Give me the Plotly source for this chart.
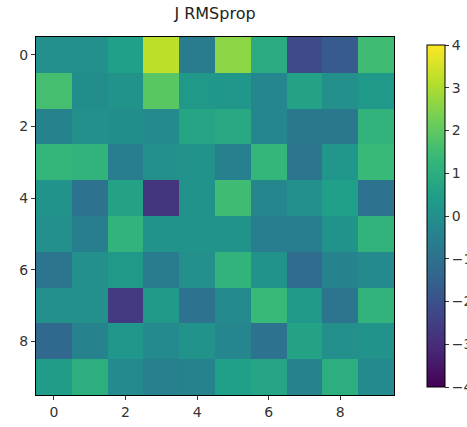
import plotly.graph_objects as go

title = "J RMSprop"
x_ticks = [0, 2, 4, 6, 8]
y_ticks = [0, 2, 4, 6, 8]
cbar_ticks = [-4, -3, -2, -1, 0, 1, 2, 3, 4]

row0 = [0.0, 0.0, 0.5, 3.2, -0.7, 2.6, 0.9, -2.2, -1.7, 1.5]
row1 = [1.6, -0.1, 0.1, 1.9, 0.3, 0.2, -0.3, 0.6, 0.0, 0.3]
row2 = [-0.4, 0.0, -0.1, -0.2, 0.7, 0.8, -0.3, -0.8, -0.8, 1.2]
row3 = [1.3, 1.2, -0.6, 0.0, 0.1, -0.5, 1.3, -0.9, 0.2, 1.4]
row4 = [0.1, -1.0, 0.6, -2.8, 0.1, 1.5, -0.3, 0.0, 0.5, -1.0]
row5 = [0.0, -0.6, 1.2, 0.1, 0.1, 0.1, -0.6, -0.6, 0.1, 1.2]
row6 = [-0.9, 0.0, 0.3, -0.7, 0.0, 1.2, 0.1, -1.2, -0.4, -0.2]
row7 = [0.0, 0.0, -2.6, 0.3, -1.0, -0.2, 1.4, 0.3, -0.9, 1.2]
row8 = [-1.3, -0.4, 0.2, -0.2, 0.1, -0.3, -1.0, 0.6, 0.0, 0.1]
row9 = [0.4, 1.0, -0.2, -0.5, -0.4, 0.5, 0.7, -0.4, 1.0, -0.2]
z = [row0, row1, row2, row3, row4, row5, row6, row7, row8, row9]

fig = go.Figure(go.Heatmap(
    z=z,
    colorscale="Viridis",
    zmin=-4, zmax=4,
    colorbar=dict(
        x=1.064, xanchor="left", xref="paper",
        thickness=18, thicknessmode="pixels",
        len=362, lenmode="pixels", y=0.5, yanchor="middle",
        outlinewidth=1, outlinecolor="black",
        tickvals=cbar_ticks, ticks="outside", ticklen=4, tickcolor="#333",
        tickfont=dict(family="DejaVu Sans", size=14, color="#333"),
    ),
))

axis_common = dict(
    showline=True, linecolor="black", linewidth=1, mirror=True,
    ticks="outside", ticklen=4, tickcolor="#333",
    showgrid=False, zeroline=False,
    tickfont=dict(family="DejaVu Sans", size=14, color="#333"),
)
fig.update_xaxes(range=[-0.5, 9.5], tickvals=x_ticks, **axis_common)
fig.update_yaxes(range=[9.5, -0.5], tickvals=y_ticks, **axis_common)

fig.update_layout(
    width=467, height=427,
    margin=dict(l=36, r=73, t=37, b=32, autoexpand=False),
    paper_bgcolor="white", plot_bgcolor="white",
    title=dict(text=title, x=0.5, xref="paper", xanchor="center",
               y=1, yref="container", yanchor="top", pad=dict(t=8),
               font=dict(family="DejaVu Sans", size=16, color="#222")),
)

fig.write_html("out.html")
